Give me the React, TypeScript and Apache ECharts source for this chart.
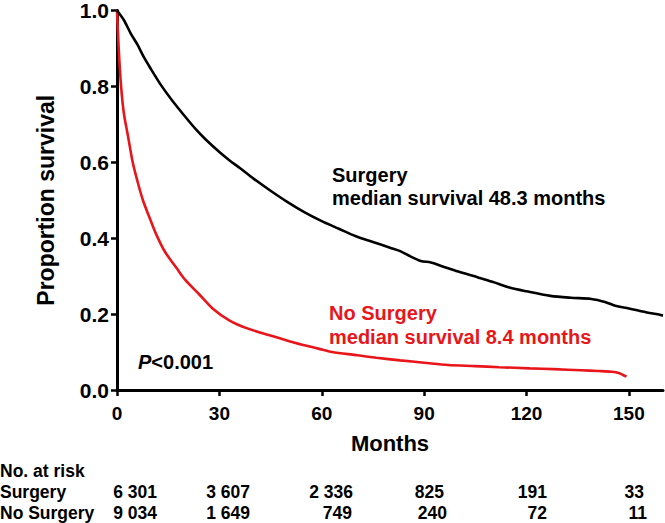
import React, { useEffect, useRef } from 'react';
import * as echarts from 'echarts';

// ---- data ----
const xTicks = [0, 30, 60, 90, 120, 150];
const yTicks = [0, 0.2, 0.4, 0.6, 0.8, 1.0];

const surgeryMonths = [0, 2, 4, 6, 8, 10, 13, 16, 20, 23, 26, 30, 33, 36, 40, 45, 50, 55, 60, 65, 70, 75, 80, 83, 86, 89, 92, 95, 100, 106, 110, 115, 120, 127, 133, 139, 143, 146, 150, 155, 158, 160];
const surgerySurvival = [1.0, 0.975, 0.94, 0.91, 0.875, 0.845, 0.802, 0.765, 0.72, 0.688, 0.66, 0.627, 0.605, 0.585, 0.557, 0.525, 0.495, 0.468, 0.445, 0.425, 0.405, 0.39, 0.375, 0.366, 0.352, 0.34, 0.336, 0.327, 0.312, 0.296, 0.285, 0.27, 0.26, 0.248, 0.243, 0.24, 0.232, 0.222, 0.215, 0.205, 0.2, 0.196];

const noSurgeryMonths = [0, 0.5, 1.2, 2, 3.2, 4.6, 6, 7.6, 9.5, 11.5, 14, 17.4, 20, 24, 28, 33, 38, 44.7, 50, 54, 59, 63, 70, 76, 83, 90, 97, 105, 112, 121, 128, 136, 141, 145, 147, 149.3];
const noSurgerySurvival = [1.0, 0.9, 0.8, 0.73, 0.67, 0.6, 0.55, 0.5, 0.455, 0.41, 0.365, 0.322, 0.29, 0.253, 0.215, 0.183, 0.163, 0.144, 0.13, 0.12, 0.109, 0.1, 0.092, 0.085, 0.078, 0.072, 0.066, 0.063, 0.06, 0.057, 0.055, 0.052, 0.05, 0.048, 0.045, 0.035];

const riskTitle = 'No. at risk';
const riskGroups = ['Surgery', 'No Surgery'];
const riskSurgery = ['6 301', '3 607', '2 336', '825', '191', '33'];
const riskNoSurgery = ['9 034', '1 649', '749', '240', '72', '11'];

const surgeryNote = ['Surgery', 'median survival 48.3 months'];
const noSurgeryNote = ['No Surgery', 'median survival 8.4 months'];

// ---- layout / style ----
const FONT = '"Liberation Sans", Arial, sans-serif';
const RED = '#e8161b';
const riskRightSurgery = [157, 250, 353, 444, 547, 644];
const riskRightNoSurgery = [157, 250, 352, 447, 547, 647];
const riskRowsY = [471, 492, 513];

export default function App() {
  const ref = useRef<HTMLDivElement>(null);
  useEffect(() => {
    document.body.style.margin = '0';
    const chart = echarts.init(ref.current!, null, { renderer: 'svg' });

    const txt = (text: string, x: number, y: number, size: number, fill: string, align = 'left') => ({
      type: 'text',
      x,
      y,
      silent: true,
      style: {
        text,
        fill,
        fontFamily: FONT,
        fontWeight: 'bold',
        fontSize: size,
        align,
        verticalAlign: 'middle',
      },
    });

    const graphics: any[] = [
      txt(surgeryNote[0], 332, 175, 20, '#000'),
      txt(surgeryNote[1], 332, 198, 20, '#000'),
      txt(noSurgeryNote[0], 329, 313, 20, RED),
      txt(noSurgeryNote[1], 329, 337, 20, RED),
      {
        type: 'text',
        x: 138,
        y: 362,
        silent: true,
        style: {
          text: '{i|P}{n|<0.001}',
          verticalAlign: 'middle',
          rich: {
            i: { fontFamily: FONT, fontWeight: 'bold', fontStyle: 'italic', fontSize: 20, fill: '#000' },
            n: { fontFamily: FONT, fontWeight: 'bold', fontSize: 20, fill: '#000' },
          },
        },
      },
      txt(riskTitle, 0, riskRowsY[0], 17.5, '#000'),
      txt(riskGroups[0], 0, riskRowsY[1], 17.5, '#000'),
      txt(riskGroups[1], 0, riskRowsY[2], 17.5, '#000'),
      ...riskSurgery.map((v, i) => txt(v, riskRightSurgery[i], riskRowsY[1], 17.5, '#000', 'right')),
      ...riskNoSurgery.map((v, i) => txt(v, riskRightNoSurgery[i], riskRowsY[2], 17.5, '#000', 'right')),
    ];

    chart.setOption({
      animation: false,
      grid: { left: 117, top: 7, right: 2, bottom: 133, containLabel: false },
      xAxis: {
        type: 'value',
        min: 0,
        max: 160,
        interval: 30,
        name: 'Months',
        nameLocation: 'middle',
        nameGap: 42,
        nameTextStyle: { fontFamily: FONT, fontWeight: 'bold', fontSize: 22, color: '#000' },
        axisLine: { show: true, onZero: false, lineStyle: { color: '#000', width: 3 } },
        axisTick: { show: true, length: 6, lineStyle: { color: '#000', width: 2.5 }, customValues: xTicks },
        axisLabel: {
          customValues: xTicks,
          margin: 14,
          fontFamily: FONT,
          fontWeight: 'bold',
          fontSize: 19,
          color: '#000',
        },
        splitLine: { show: false },
      },
      yAxis: {
        type: 'value',
        min: 0,
        max: 1,
        interval: 0.2,
        name: 'Proportion survival',
        nameLocation: 'middle',
        nameGap: 60,
        nameTextStyle: { fontFamily: FONT, fontWeight: 'bold', fontSize: 23, color: '#000' },
        axisLine: { show: true, onZero: false, lineStyle: { color: '#000', width: 3 } },
        axisTick: { show: true, length: 6, lineStyle: { color: '#000', width: 2.5 }, customValues: yTicks },
        axisLabel: {
          customValues: yTicks,
          margin: 8,
          formatter: (v: number) => v.toFixed(1),
          fontFamily: FONT,
          fontWeight: 'bold',
          fontSize: 21,
          color: '#000',
        },
        splitLine: { show: false },
      },
      series: [
        {
          type: 'line',
          name: 'No Surgery',
          data: noSurgeryMonths.map((m, i) => [m, noSurgerySurvival[i]]),
          showSymbol: false,
          smooth: 0.3,
          lineStyle: { color: RED, width: 2.6 },
          itemStyle: { color: RED },
          z: 2,
        },
        {
          type: 'line',
          name: 'Surgery',
          data: surgeryMonths.map((m, i) => [m, surgerySurvival[i]]),
          showSymbol: false,
          smooth: 0.3,
          lineStyle: { color: '#000', width: 2.6 },
          itemStyle: { color: '#000' },
          z: 3,
        },
      ],
      graphic: graphics,
    });

    return () => chart.dispose();
  }, []);
  return <div ref={ref} style={{ width: 665, height: 523 }} />;
}
